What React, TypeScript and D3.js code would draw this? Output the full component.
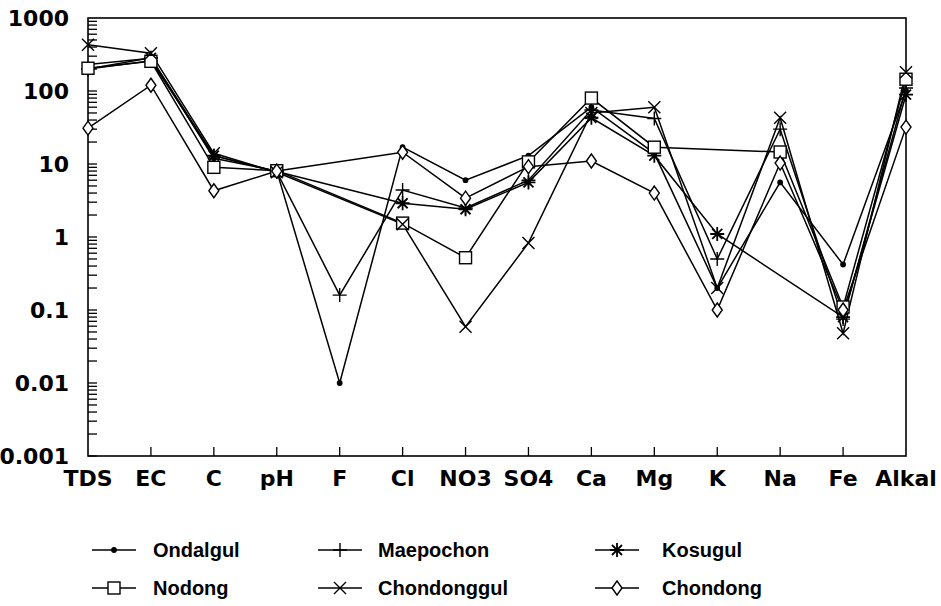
import { useRef, useEffect } from 'react';
import * as d3 from 'd3';

const categories = ['TDS', 'EC', 'C', 'pH', 'F', 'Cl', 'NO3', 'SO4', 'Ca', 'Mg', 'K', 'Na', 'Fe', 'Alkal'];
const yTickValues = [0.001, 0.01, 0.1, 1, 10, 100, 1000];
const yTickLabels = ['0.001', '0.01', '0.1', '1', '10', '100', '1000'];

// null = not detected (line skips to next value)
const ondalgul = [230, 280, 12, 8, 0.01, 17, 6, 13, 60, 14, 0.2, 5.6, 0.42, 100];
const maepochon = [200, 260, 13, 7.8, 0.16, 4.4, 2.5, 6, 55, 42, 0.5, 30, 0.075, 110];
const kosugul = [200, 285, 13, 7.9, null, 2.9, 2.4, 5.6, 43, 13, 1.1, null, 0.08, 89];
const nodong = [205, 255, 9, 8.1, null, 1.55, 0.52, 10.7, 80, 17, null, 14.6, 0.11, 145];
const chondonggul = [430, 330, 14, 7.7, null, 1.5, 0.059, 0.83, 50, 60, 0.2, 43, 0.048, 180];
const chondong = [31, 120, 4.3, 8, null, 14.5, 3.4, 9.2, 11, 4, 0.1, 10.3, 0.1, 32];

const seriesNames = ['Ondalgul', 'Maepochon', 'Kosugul', 'Nodong', 'Chondonggul', 'Chondong'];
const seriesValues = [ondalgul, maepochon, kosugul, nodong, chondonggul, chondong];
const seriesMarkers = ['dot', 'plus', 'star', 'square', 'cross', 'diamond'];

const W = 941;
const H = 606;
const m = { left: 88, right: 906, top: 18, bottom: 456 };

function drawMarker(g, type, cx, cy) {
  const s = 6;
  const mk = g.append('g').attr('transform', `translate(${cx},${cy})`)
    .attr('stroke', '#000').attr('stroke-width', 1.4).attr('fill', 'none');
  if (type === 'dot') {
    mk.append('circle').attr('r', 2.2).attr('fill', '#000');
  } else if (type === 'plus') {
    mk.append('path').attr('d', `M${-s - 1},0H${s + 1}M0,${-s - 1}V${s + 1}`);
  } else if (type === 'cross') {
    mk.append('path').attr('d', `M${-s},${-s}L${s},${s}M${-s},${s}L${s},${-s}`);
  } else if (type === 'star') {
    mk.append('path').attr('stroke-width', 1.8)
      .attr('d', `M${-s - 1},0H${s + 1}M0,${-s - 1}V${s + 1}M${-s + 1},${-s + 1}L${s - 1},${s - 1}M${-s + 1},${s - 1}L${s - 1},${-s + 1}`);
  } else if (type === 'square') {
    mk.append('rect').attr('x', -s).attr('y', -s).attr('width', 2 * s).attr('height', 2 * s).attr('fill', '#fff');
  } else if (type === 'diamond') {
    mk.append('path').attr('fill', '#fff').attr('d', `M0,${-s - 1}L${s - 1},0L0,${s + 1}L${-s + 1},0Z`);
  }
}

function App() {
  const svgRef = useRef(null);

  useEffect(() => {
    const svg = d3.select(svgRef.current);
    svg.selectAll('*').remove();

    const x = d3.scalePoint().domain(categories).range([m.left, m.right]);
    const y = d3.scaleLog().domain([0.001, 1000]).range([m.bottom, m.top]);

    // frame
    svg.append('rect')
      .attr('x', m.left).attr('y', m.top)
      .attr('width', m.right - m.left).attr('height', m.bottom - m.top)
      .attr('fill', 'none').attr('stroke', '#000').attr('stroke-width', 1.6);

    // y minor + major ticks (inside)
    const ticks = [];
    for (let e = -3; e < 3; e++) {
      for (let k = 1; k <= 9; k++) ticks.push(k * Math.pow(10, e));
    }
    svg.append('g').selectAll('line').data(ticks).enter().append('line')
      .attr('x1', m.left).attr('x2', m.left + 9)
      .attr('y1', d => y(d)).attr('y2', d => y(d))
      .attr('stroke', '#000').attr('stroke-width', 1.3);

    svg.append('g').selectAll('text').data(yTickValues).enter().append('text')
      .attr('x', m.left - 19).attr('y', d => y(d) + 8)
      .attr('text-anchor', 'end')
      .style('font-family', '"DejaVu Sans", sans-serif')
      .style('font-weight', 'bold').style('font-size', '22px')
      .text((d, i) => yTickLabels[i]);

    // x ticks
    svg.append('g').selectAll('line').data(categories.slice(1, -1)).enter().append('line')
      .attr('x1', d => x(d)).attr('x2', d => x(d))
      .attr('y1', m.bottom).attr('y2', m.bottom - 9)
      .attr('stroke', '#000').attr('stroke-width', 1.3);

    svg.append('g').selectAll('text').data(categories).enter().append('text')
      .attr('x', d => x(d)).attr('y', m.bottom + 30)
      .attr('text-anchor', 'middle')
      .style('font-family', '"DejaVu Sans", sans-serif')
      .style('font-weight', 'bold').style('font-size', '22px')
      .text(d => d);

    const line = d3.line()
      .x(d => x(d.cat))
      .y(d => y(d.v));

    seriesValues.forEach((vals) => {
      const pts = vals.map((v, i) => ({ cat: categories[i], v })).filter(d => d.v != null);
      svg.append('path').datum(pts)
        .attr('d', line)
        .attr('fill', 'none').attr('stroke', '#000').attr('stroke-width', 1.5);
    });
    seriesValues.forEach((vals, si) => {
      const g = svg.append('g');
      vals.forEach((v, i) => {
        if (v != null) drawMarker(g, seriesMarkers[si], x(categories[i]), y(v));
      });
    });

    // legend
    const legX = [92, 318, 595];
    const legTextX = [153, 378, 662];
    const legY = [550, 588];
    seriesNames.forEach((name, i) => {
      const col = i % 3;
      const row = Math.floor(i / 3);
      const g = svg.append('g');
      g.append('line')
        .attr('x1', legX[col]).attr('x2', legX[col] + 44)
        .attr('y1', legY[row]).attr('y2', legY[row])
        .attr('stroke', '#000').attr('stroke-width', 1.4);
      drawMarker(g, seriesMarkers[i], legX[col] + 22, legY[row]);
      g.append('text')
        .attr('x', legTextX[col]).attr('y', legY[row] + 7)
        .style('font-family', '"Liberation Sans", Arial, sans-serif')
        .style('font-weight', 'bold').style('font-size', '20px')
        .text(name);
    });
  }, []);

  return (
    <svg ref={svgRef} width={W} height={H}
      style={{ position: 'absolute', left: 0, top: 0, background: '#fff' }} />
  );
}

export default App;
